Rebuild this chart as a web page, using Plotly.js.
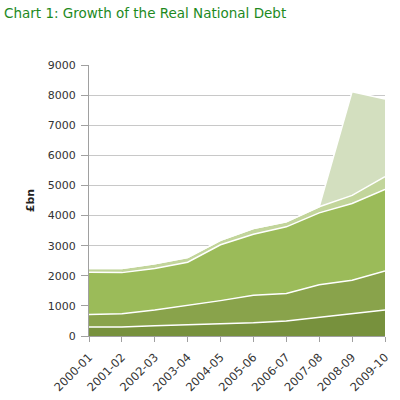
<!DOCTYPE html>
<html><head><meta charset="utf-8">
<script src="https://cdn.plot.ly/plotly-3.0.1.min.js"></script>
<style>html,body{margin:0;padding:0;background:#fff}#chart{width:400px;height:400px}</style>
</head><body><div id="chart"></div>
<script>
const years = ["2000-01","2001-02","2002-03","2003-04","2004-05","2005-06","2006-07","2007-08","2008-09","2009-10"];
const layer1 = [300, 300, 340, 375, 410, 440, 500, 620, 730, 865];
const layer2 = [410, 440, 525, 635, 765, 910, 910, 1080, 1120, 1295];
const layer3 = [1410, 1365, 1375, 1440, 1855, 2030, 2215, 2390, 2550, 2710];
const layer4 = [120, 135, 155, 155, 150, 190, 165, 200, 270, 420];
const layer5 = [0, 0, 0, 0, 0, 0, 0, 0, 3445, 2580];
const yTicks = [0,1000,2000,3000,4000,5000,6000,7000,8000,9000];

const colors = ["#77913D","#89A34B","#9BBB59","#C2D59B","#D3DFBF"];
const layers = [layer1, layer2, layer3, layer4, layer5];
const traces = layers.map((v,i)=>({
  x: years, y: v, type: "scatter", mode: "lines", stackgroup: "s",
  fillcolor: colors[i], line: {color: "#ffffff", width: 1.5}, hoverinfo: "skip"
}));

const layout = {
  width: 400, height: 400,
  margin: {l: 89, r: 15, t: 65, b: 64},
  paper_bgcolor: "#fff", plot_bgcolor: "#fff",
  showlegend: false,
  font: {family: "DejaVu Sans, Verdana, sans-serif", size: 11, color: "#333"},
  title: {text: "Chart 1: Growth of the Real National Debt", x: 0.01, xanchor: "left", y: 0.978, yanchor: "top",
          font: {family: "DejaVu Sans, Tahoma, sans-serif", size: 13.5, color: "#1E8A1E"}},
  xaxis: {type: "category", range: [0, 9], showgrid: false, zeroline: false,
          showline: true, linecolor: "#A0A0A0", linewidth: 1,
          ticks: "outside", ticklen: 5, tickcolor: "#A0A0A0", tickangle: -45, ticklabelstandoff: 4,
          tickfont: {size: 11.5, color: "#333"}},
  yaxis: {range: [0, 9000], tickvals: yTicks, showgrid: true, gridcolor: "#C8C8C8", gridwidth: 1,
          zeroline: false, showline: true, linecolor: "#A0A0A0", linewidth: 1,
          ticks: "outside", ticklen: 7, tickcolor: "#A0A0A0", ticklabelstandoff: 3, tickfont: {size: 11, color: "#333"},
          title: {text: "<b>£bn</b>", standoff: 10, font: {size: 11, color: "#222"}}}
};
Plotly.newPlot("chart", traces, layout, {staticPlot: true, displayModeBar: false});
</script></body></html>
